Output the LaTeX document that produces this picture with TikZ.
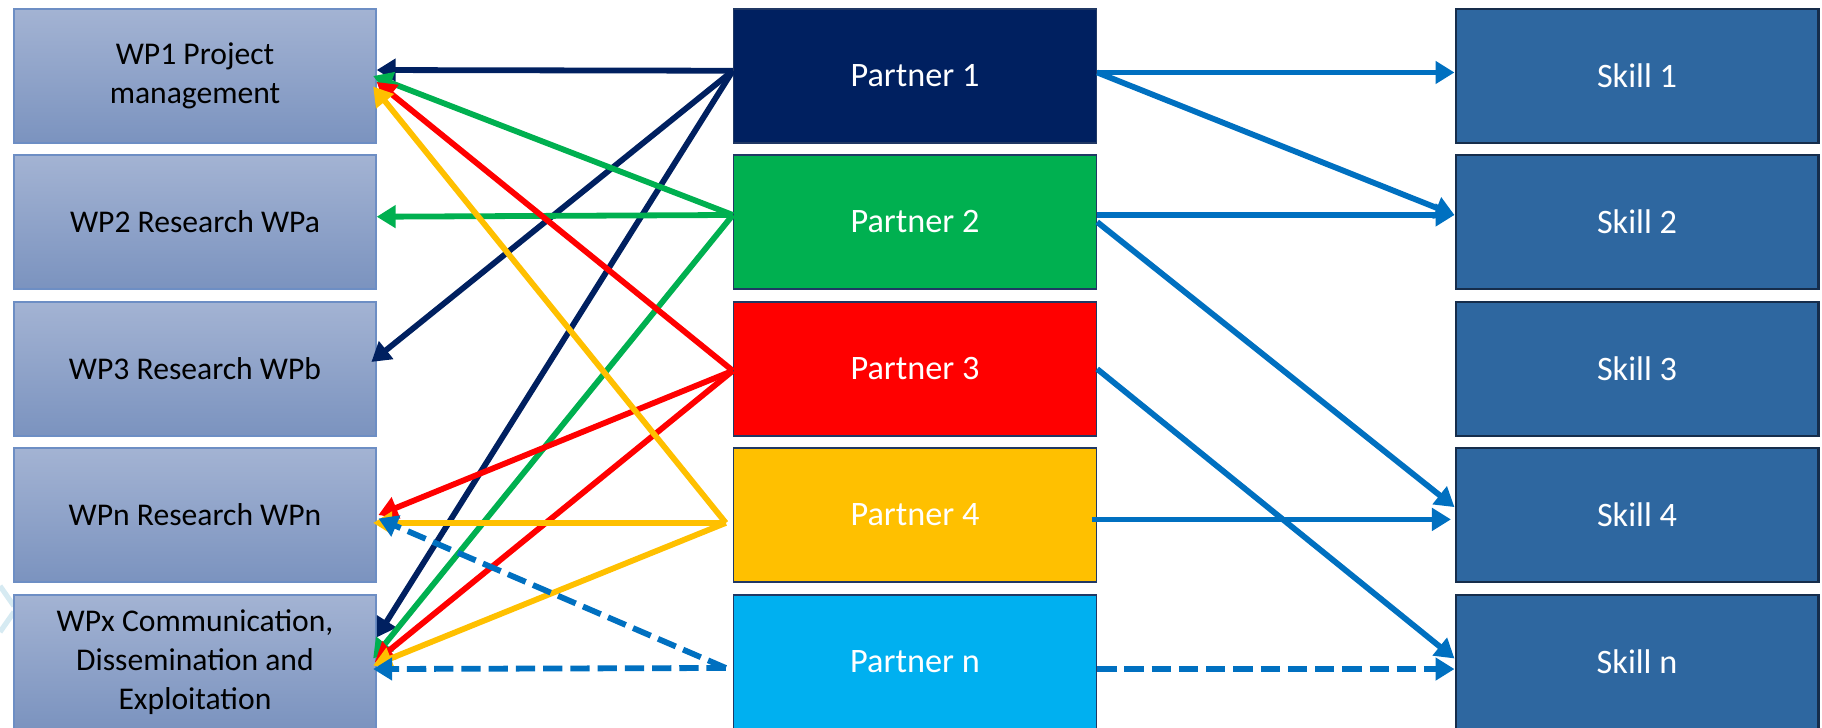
\documentclass[tikz,border=0pt]{standalone}
\usepackage{fontspec}
\setmainfont{Carlito}
\usetikzlibrary{arrows.meta}

\definecolor{wpline}{RGB}{109,142,196}
\definecolor{wptop}{RGB}{163,179,211}
\definecolor{wpbottom}{RGB}{123,147,191}
\definecolor{partnerline}{RGB}{32,56,100}
\definecolor{pnavy}{RGB}{0,32,96}
\definecolor{pgreen}{RGB}{0,176,80}
\definecolor{pred}{RGB}{255,0,0}
\definecolor{pgold}{RGB}{255,192,0}
\definecolor{pcyan}{RGB}{0,176,240}
\definecolor{skillfill}{RGB}{46,103,160}
\definecolor{skillline}{RGB}{22,45,75}
\definecolor{linkblue}{RGB}{0,112,192}
\definecolor{ghost}{RGB}{214,234,242}

\begin{document}
\begin{tikzpicture}[x=0.02cm,y=-0.02cm,
    wpbox/.style={draw=wpline, line width=0.8pt, top color=wptop, bottom color=wpbottom,
        minimum width=7.24cm, minimum height=2.68cm, align=center, inner sep=0pt,
        font=\fontsize{18}{22}\selectfont},
    partner/.style={draw=partnerline, line width=0.8pt, minimum width=7.26cm,
        minimum height=2.68cm, inner sep=0pt, text=white, font=\fontsize{19.5}{23}\selectfont},
    skill/.style={partner, fill=skillfill, draw=skillline, line width=1.2pt},
    link/.style={line width=3.3pt, -{Triangle[length=0.38cm,width=0.44cm]}},
    dashlink/.style={link, dash pattern=on 11pt off 4.5pt}]

        \clip (0,0) rectangle (1822,727);

        % faint mark behind the last work package
        \draw[ghost, line width=3pt] (0,586) -- (14,606);
        \draw[ghost, line width=3pt] (14,612) -- (0,632);

        % work packages
        \node[wpbox] at (195,76) (wp1) {WP1 Project\\management};
        \node[wpbox] at (195,222) (wp2) {WP2 Research WPa};
        \node[wpbox] at (195,369) (wp3) {WP3 Research WPb};
        \node[wpbox] at (195,515) (wpn) {WPn Research WPn};
        \node[wpbox] at (195,662) (wpx) {WPx Communication,\\Dissemination and\\Exploitation};

        % partners
        \node[partner, fill=pnavy] at (915,76) (p1) {Partner 1};
        \node[partner, fill=pgreen] at (915,222) (p2) {Partner 2};
        \node[partner, fill=pred] at (915,369) (p3) {Partner 3};
        \node[partner, fill=pgold] at (915,515) (p4) {Partner 4};
        \node[partner, fill=pcyan] at (915,662) (pn) {Partner n};

        % skills
        \node[skill] at (1637,76) (s1) {Skill 1};
        \node[skill] at (1637,222) (s2) {Skill 2};
        \node[skill] at (1637,369) (s3) {Skill 3};
        \node[skill] at (1637,515) (s4) {Skill 4};
        \node[skill] at (1637,662) (sn) {Skill n};

        % partner -> work package
        \draw[link, pnavy] ([yshift=3pt]p1.west) -- ([yshift=3.4pt]wp1.east);
        \draw[link, pnavy] ([yshift=3pt]p1.west) -- ([xshift=-3pt,yshift=4pt]wp3.east);
        \draw[link, pnavy] ([yshift=3pt]p1.west) -- ([yshift=14pt]wpx.east);

        \draw[link, pgreen] ([yshift=4pt]p2.west) -- ([xshift=-2pt]wp1.east);
        \draw[link, pgreen] ([yshift=4pt]p2.west) -- ([yshift=3pt]wp2.east);
        \draw[link, pgreen] ([yshift=4pt]p2.west) -- ([xshift=-2pt,yshift=2pt]wpx.east);

        \draw[link, pred] ([yshift=-1pt]p3.west) -- ([yshift=-3.4pt]wp1.east);
        \draw[link, pred] ([yshift=-1pt]p3.west) -- ([xshift=1pt]wpn.east);
        \draw[link, pred] ([yshift=-1pt]p3.west) -- ([xshift=-1pt]wpx.east);

        \draw[link, pgold] ([xshift=-4pt,yshift=-4.5pt]p4.west) -- ([xshift=-2pt,yshift=-6pt]wp1.east);
        \draw[link, pgold] ([xshift=-4pt,yshift=-4.5pt]p4.west) -- ([xshift=-2pt,yshift=-4.5pt]wpn.east);
        \draw[link, pgold] ([xshift=-4pt,yshift=-4.5pt]p4.west) -- ([xshift=-2pt,yshift=-2pt]wpx.east);

        \draw[dashlink, linkblue] ([xshift=-4pt,yshift=-3.4pt]pn.west) -- ([xshift=1pt,yshift=-2pt]wpn.east);
        \draw[dashlink, linkblue] ([xshift=-4pt,yshift=-3.4pt]pn.west) -- ([xshift=-2pt,yshift=-4pt]wpx.east);

        % partner -> skill
        \draw[link, linkblue] ([yshift=2pt]p1.east) -- ([yshift=2pt]s1.west);
        \draw[link, linkblue] ([yshift=2pt]p1.east) -- ([yshift=4pt]s2.west);
        \draw[link, linkblue] ([yshift=4pt]p2.east) -- ([yshift=4pt]s2.west);
        \draw[link, linkblue] (p2.east) -- ([yshift=4.5pt]s4.west);
        \draw[link, linkblue] (p3.east) -- ([yshift=2pt]sn.west);
        \draw[link, linkblue] ([xshift=-3pt,yshift=-2.5pt]p4.east) -- ([xshift=-2pt,yshift=-2.5pt]s4.west);
        \draw[dashlink, linkblue] ([yshift=-4pt]pn.east) -- ([yshift=-4pt]sn.west);

    \end{tikzpicture}
\end{document}
